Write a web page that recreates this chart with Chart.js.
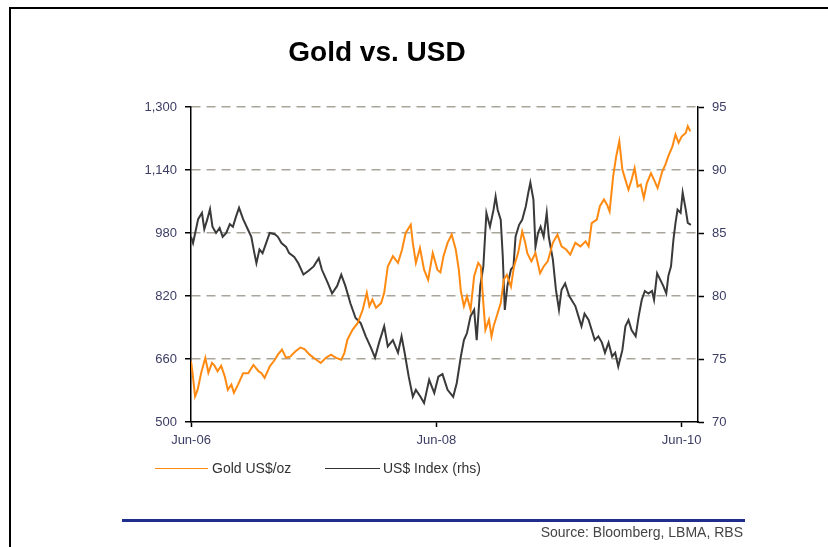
<!DOCTYPE html>
<html>
<head>
<meta charset="utf-8">
<script src="https://cdn.jsdelivr.net/npm/chart.js@4.4.1/dist/chart.umd.min.js"></script>
<style>
  html, body { margin:0; padding:0; background:#fff; overflow:hidden; }
  #wrap { position:relative; width:828px; height:547px; }
  #frame { position:absolute; left:9px; top:7px; width:830px; height:560px; border-top:2px solid #000; border-left:2px solid #000; }
  canvas { position:absolute; left:0; top:0; }
  .t { position:absolute; font-family:"Liberation Sans", Arial, sans-serif; white-space:nowrap; }
  #title { left:377px; top:36px; transform:translateX(-50%); font-size:28px; font-weight:bold; color:#000; }
  .leg { top:460px; font-size:14px; color:#333; }
  .legline { position:absolute; height:0; }
  #srcline { position:absolute; left:122px; top:519px; width:623px; height:3px; background:#1f2e8c; }
  #src { right:85px; top:524px; font-size:14px; color:#444; }
</style>
</head>
<body>
<div id="wrap">
  <div id="frame"></div>
  <canvas id="c" width="828" height="547"></canvas>
  <div id="title" class="t">Gold vs. USD</div>
  <div class="legline" style="left:155px; top:468px; width:53px; border-top:1.5px solid #ff8a12;"></div>
  <div class="t leg" style="left:212px;">Gold US$/oz</div>
  <div class="legline" style="left:325px; top:468px; width:55px; border-top:1.5px solid #333;"></div>
  <div class="t leg" style="left:383px;">US$ Index (rhs)</div>
  <div id="srcline"></div>
  <div id="src" class="t">Source: Bloomberg, LBMA, RBS</div>
</div>
<script>
// x values: months since Jun-2006
const xTickMonths = [0, 24, 48];
const xTickLabels = ['Jun-06', 'Jun-08', 'Jun-10'];

const goldMonths = [0.0,0.15,0.4,0.65,1.0,1.4,1.7,2.05,2.3,2.6,2.95,3.3,3.6,3.95,4.2,4.6,5.1,5.6,6.1,6.6,6.9,7.2,7.7,8.2,8.5,8.9,9.3,9.7,10.2,10.7,11.1,11.6,12.06,12.7,13.2,13.7,14.2,14.7,15.0,15.3,15.8,16.3,16.8,17.2,17.45,17.75,18.1,18.6,18.9,19.25,19.75,20.25,20.65,21.0,21.5,21.7,22.0,22.4,22.8,23.2,23.65,24.1,24.4,24.7,25.1,25.5,25.9,26.2,26.4,26.7,27.0,27.35,27.7,28.1,28.35,28.6,28.8,29.15,29.4,29.6,29.9,30.3,30.6,30.9,31.3,31.6,32.0,32.4,32.7,32.9,33.3,33.7,34.15,34.5,34.9,35.4,35.85,36.25,36.7,37.1,37.6,38.1,38.6,38.9,39.2,39.7,40.0,40.4,40.7,40.95,41.3,41.6,41.9,42.2,42.5,42.8,43.1,43.4,43.7,44.0,44.3,44.6,45.0,45.3,45.65,46.1,46.4,46.7,47.1,47.4,47.7,48.0,48.4,48.6,48.85];
const goldValues = [654,625,565,582,625,663,625,650,643,629,643,616,582,595,574,595,624,624,645,629,624,612,641,658,671,684,663,666,679,689,685,671,662,650,663,671,663,658,675,709,734,751,785,828,794,811,790,802,828,895,921,904,938,980,1001,955,904,942,887,861,929,887,880,921,955,976,938,887,832,794,819,785,870,904,895,802,734,760,717,743,768,802,861,874,844,895,929,984,955,929,908,929,878,895,908,955,976,946,938,925,955,946,959,946,1005,1014,1048,1065,1052,1035,1124,1175,1213,1141,1115,1090,1115,1145,1098,1103,1069,1107,1132,1115,1094,1136,1153,1175,1200,1230,1209,1225,1234,1251,1238];

const usdMonths = [0.0,0.2,0.7,1.07,1.3,1.6,1.86,2.1,2.45,2.8,3.1,3.45,3.8,4.1,4.4,4.7,5.1,5.5,5.9,6.2,6.4,6.7,7.0,7.35,7.7,8.2,8.5,8.85,9.3,9.6,10.1,10.5,11.0,11.5,12.0,12.5,12.8,13.4,13.8,14.3,14.7,15.1,15.6,16.1,16.6,17.1,17.6,18.0,18.4,18.9,19.25,19.75,20.25,20.6,20.9,21.3,21.7,22.0,22.45,22.8,23.3,23.8,24.2,24.6,25.1,25.65,26.0,26.4,26.7,27.0,27.35,27.7,27.95,28.3,28.6,28.9,29.25,29.6,29.8,30.0,30.3,30.5,30.7,30.95,31.3,31.55,31.75,32.1,32.4,32.75,33.0,33.2,33.5,33.7,33.95,34.2,34.5,34.8,35.0,35.4,35.7,36.0,36.25,36.6,37.0,37.6,37.9,38.2,38.5,38.9,39.2,39.5,39.85,40.2,40.5,40.85,41.2,41.5,41.8,42.2,42.5,42.8,43.1,43.5,43.8,44.1,44.4,44.75,45.1,45.3,45.6,45.9,46.2,46.5,46.7,46.96,47.2,47.4,47.6,47.9,48.1,48.4,48.6,48.9];
const usdValues = [84.7,84.2,86.1,86.6,85.3,86.1,86.9,85.5,85.0,85.4,84.7,85.0,85.7,85.5,86.3,87.0,86.1,85.4,84.7,83.4,82.6,83.7,83.4,84.2,85.0,84.9,84.7,84.2,83.9,83.4,83.1,82.6,81.7,82.0,82.35,83.0,82.1,81.0,80.2,80.8,81.7,80.8,79.4,78.25,77.85,76.8,75.9,75.1,76.3,77.6,76.0,76.5,75.5,76.8,75.5,73.6,72.0,72.55,72.0,71.5,73.35,72.3,73.6,73.8,72.55,72.0,73.1,75.2,76.5,77.06,78.4,78.9,76.5,80.8,82.35,86.6,85.5,86.85,87.9,86.85,86.05,83.15,78.9,80.8,82.1,82.35,84.7,85.65,86.05,87.1,88.2,89.0,87.65,83.9,85.0,85.5,84.7,86.6,84.7,82.9,80.5,78.9,80.5,81.0,80.0,79.2,78.4,77.6,78.6,78.1,77.3,76.5,76.8,76.3,75.5,76.3,75.2,75.5,74.4,75.7,77.6,78.1,77.3,76.8,78.4,79.7,80.4,80.2,80.4,79.7,81.8,81.3,80.8,80.2,81.6,82.35,84.5,85.8,86.85,86.6,88.2,86.85,85.8,85.65];

const goldTicks = [500, 660, 820, 980, 1140, 1300];
const usdTicks = [70, 75, 80, 85, 90, 95];

const toPts = (xs, ys) => xs.map((x, i) => ({x: x, y: ys[i]}));
const tickFont = { family: "'Liberation Sans', Arial, sans-serif", size: 13 };
const tickColor = '#3c3c64';

new Chart(document.getElementById('c'), {
  type: 'line',
  data: {
    datasets: [
      { label: 'Gold US$/oz', data: toPts(goldMonths, goldValues), yAxisID: 'yL',
        borderColor: '#ff8a12', borderWidth: 2, pointRadius: 0, tension: 0 },
      { label: 'US$ Index (rhs)', data: toPts(usdMonths, usdValues), yAxisID: 'yR',
        borderColor: '#3a3a3a', borderWidth: 2, pointRadius: 0, tension: 0 }
    ]
  },
  options: {
    responsive: false,
    animation: false,
    events: [],
    layout: { padding: { top: 107, left: 0, right: 0, bottom: 0 } },
    plugins: { legend: { display: false }, title: { display: false }, tooltip: { enabled: false } },
    scales: {
      x: {
        type: 'linear', min: 0, max: 49.6,
        afterBuildTicks: s => { s.ticks = xTickMonths.map(v => ({ value: v })); },
        afterFit: s => { s.height = 125; },
        ticks: { autoSkip: false, maxRotation: 0, padding: 6, font: tickFont, color: tickColor,
          callback: v => { const i = xTickMonths.indexOf(v); return i >= 0 ? xTickLabels[i] : ''; } },
        grid: { drawOnChartArea: false, drawTicks: true, tickLength: 5, tickColor: '#000', tickWidth: 1.5 },
        border: { display: true, color: '#000', width: 1.5 }
      },
      yL: {
        type: 'linear', position: 'left', min: 500, max: 1300,
        afterBuildTicks: s => { s.ticks = goldTicks.map(v => ({ value: v })); },
        afterFit: s => { s.width = 191; },
        ticks: { padding: 8, font: tickFont, color: tickColor,
          callback: v => v.toLocaleString('en-US') },
        grid: { color: c => (c.tick && c.tick.value === 500) ? 'rgba(0,0,0,0)' : '#a9a59b',
          lineWidth: 1.5, tickLength: 6, tickColor: '#000', tickWidth: 1.5 },
        border: { display: true, color: '#000', width: 1.5, dash: [9, 6] }
      },
      yR: {
        type: 'linear', position: 'right', min: 70, max: 95,
        afterBuildTicks: s => { s.ticks = usdTicks.map(v => ({ value: v })); },
        afterFit: s => { s.width = 130; },
        ticks: { padding: 8, font: tickFont, color: tickColor, callback: v => String(v) },
        grid: { drawOnChartArea: false, tickLength: 6, tickColor: '#000', tickWidth: 1.5 },
        border: { display: true, color: '#000', width: 1.5 }
      }
    }
  }
});
</script>
</body>
</html>
